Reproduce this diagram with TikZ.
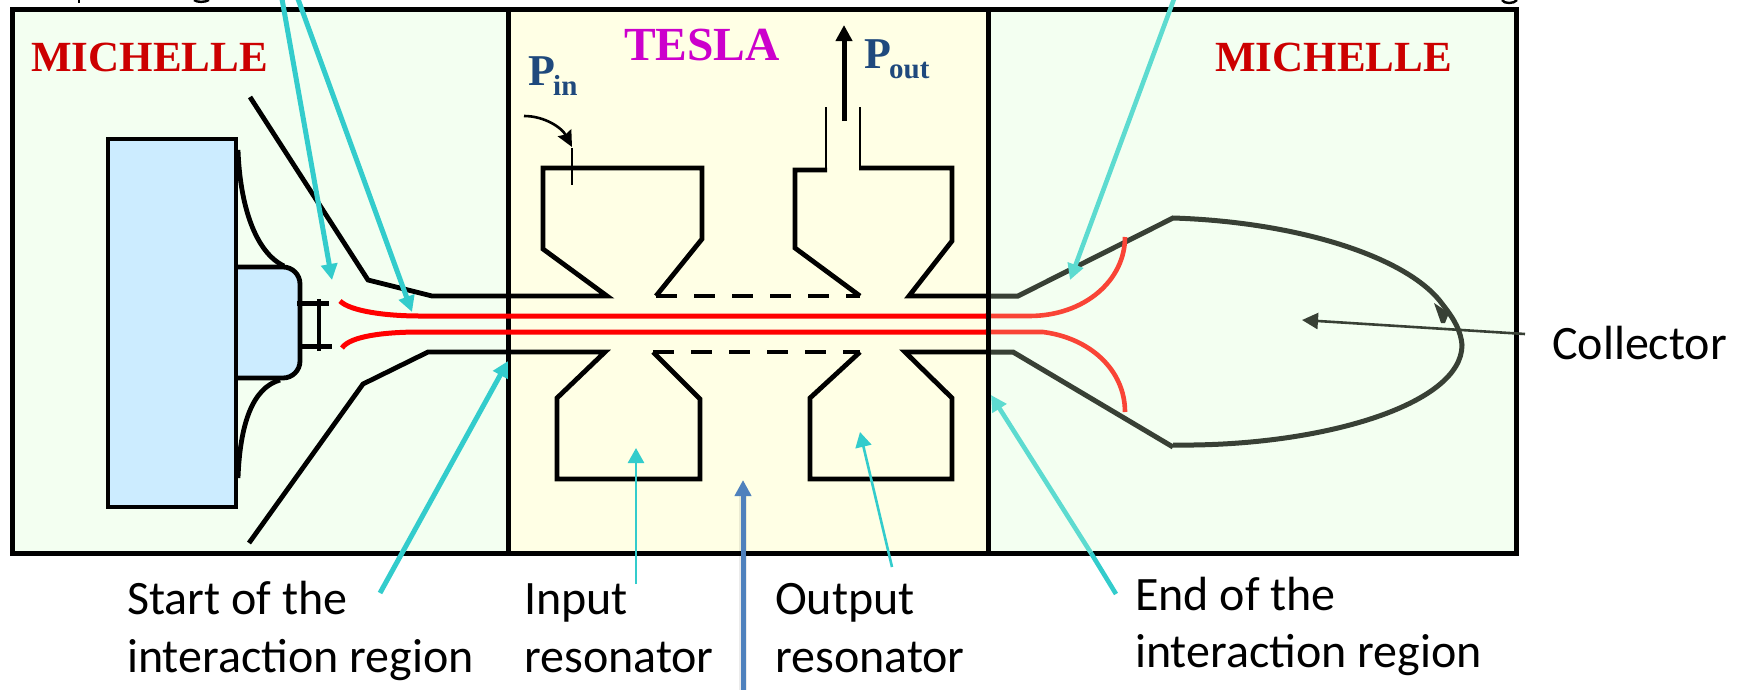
\documentclass[tikz,border=0pt]{standalone}
\usepackage{fontspec}
\setmainfont{Carlito}
\newfontfamily\serf{Liberation Serif}
\usetikzlibrary{arrows.meta}
\definecolor{zonegreen}{HTML}{F3FFF1}
\definecolor{zoneyellow}{HTML}{FFFFE5}
\definecolor{gunblue}{HTML}{CCECFF}
\definecolor{darkred}{HTML}{CC0000}
\definecolor{teslamag}{HTML}{CC00CC}
\definecolor{pblue}{HTML}{1F497D}
\definecolor{cyanA}{HTML}{33CCCC}
\definecolor{cyanB}{HTML}{5DDBD0}
\definecolor{beamblue}{HTML}{4F81BD}
\definecolor{colldark}{HTML}{384035}
\definecolor{beamorange}{HTML}{F94436}
\tikzset{
  wall/.style={line width=4.8pt,line cap=butt,line join=miter,draw=black},
  framewall/.style={line width=5pt,draw=black},
  thinwall/.style={line width=2.6pt,draw=black},
  collwall/.style={line width=5pt,draw=colldark,line join=miter},
  beam/.style={line width=5pt,draw=red,line cap=butt},
  beamend/.style={line width=4.6pt,draw=beamorange,line cap=butt},
  cyanthick/.style={line width=5pt,draw=cyanA,-{Triangle[length=16pt,width=16pt]}},
  cyanlight/.style={line width=4.6pt,draw=cyanB,-{Triangle[length=16pt,width=16pt]}},
  cyanthin/.style={line width=2.6pt,draw=cyanA,-{Triangle[length=15pt,width=16pt]}},
  label/.style={anchor=base west,inner sep=0pt,font=\fontsize{48}{48}\selectfont,text=black},
  mich/.style={anchor=base west,inner sep=0pt,font=\serf\bfseries\fontsize{43}{43}\selectfont,text=darkred},
  powlab/.style={anchor=base west,inner sep=0pt,font=\serf\bfseries\fontsize{44}{44}\selectfont,text=pblue},
  powsub/.style={anchor=base west,inner sep=0pt,font=\serf\bfseries\fontsize{29}{29}\selectfont,text=pblue},
}
\begin{document}
\begin{tikzpicture}[x=1pt,y=-1pt]
\useasboundingbox (0,0) rectangle (1740,689);
% zones
\fill[zonegreen] (12,9) rectangle (508,553);
\fill[zoneyellow] (508,9) rectangle (988,553);
\fill[zonegreen] (988,9) rectangle (1516,553);
% clipped ends of the text above the frame
\draw[line width=2.4pt] (79,0) -- (79,3);
\draw[line width=2.4pt] (194,0) .. controls (197,2.5) and (205,2.5) .. (209,0);
\draw[line width=2.4pt] (1502,0) .. controls (1504,4) and (1514,4) .. (1517,0);
% coordinates of free ends
\coordinate (a1s) at (282,-1); \coordinate (a1e) at (332,280);
\coordinate (a2s) at (298,-1); \coordinate (a2e) at (412,312);
\coordinate (a3s) at (380,593); \coordinate (a3e) at (508,361);
\coordinate (a4s) at (636,584); \coordinate (a4e) at (636,448);
\coordinate (a5s) at (892,567); \coordinate (a5e) at (860,432);
\coordinate (a6s) at (743,690); \coordinate (a6e) at (743,480);
\coordinate (a7s) at (1116,594); \coordinate (a7m) at (1091,553); \coordinate (a7e) at (991,395);
\coordinate (a8s) at (1174,-1); \coordinate (a8e) at (1070,280);
\coordinate (cs) at (1525,334); \coordinate (ce) at (1302,320);
% gun
\draw[wall,fill=gunblue,rounded corners=17pt] (236,267) -- (300,267) -- (300,378) -- (236,378);
\draw[wall,fill=gunblue] (108,139) rectangle (236,507);
\draw[wall] (238,150) .. controls (240,205) and (255,252) .. (284,266);
\draw[wall] (238,478) .. controls (240,425) and (252,388) .. (280,380);
% cathode
\draw[wall] (297,303.5) -- (329,303.5);
\draw[wall] (300,346.5) -- (332,346.5);
\draw[wall] (319,299) -- (319,351);
% focus electrode / upper tube
\draw[wall] (250,97) -- (368,280) -- (432,296) -- (607,296)
  -- (543,249) -- (543,168) -- (702,168) -- (702,239) -- (656,296);
\draw[wall,dash pattern=on 21pt off 17pt] (656,296) -- (860,296);
\draw[wall] (860,296) -- (795,248) -- (795,170) -- (827,170);
\draw[wall] (859,168) -- (952,168) -- (952,241) -- (909,296) -- (988,296);
\draw[thinwall] (826,107) -- (826,171);
\draw[thinwall] (860,107) -- (860,170);
% lower tube
\draw[wall] (249,543) -- (363,384) -- (428,352) -- (605,352)
  -- (557,398) -- (557,479) -- (700,479) -- (700,399) -- (653,352);
\draw[wall,dash pattern=on 21pt off 17pt] (653,352) -- (860,352);
\draw[wall] (860,352) -- (810,398) -- (810,479) -- (952,479) -- (952,398) -- (905,352) -- (988,352);
% collector
\draw[collwall] (988,296) -- (1018,296) -- (1173,218)
  .. controls (1300,222) and (1410,258) .. (1443,305)
  .. controls (1455,320) and (1461,332) .. (1462,345)
  .. controls (1462,405) and (1320,447) .. (1173,445);
\draw[collwall] (1173,447) -- (1013,352) -- (988,352);
\fill[colldark] (1434,303) -- (1449,313) -- (1445,323) -- (1441,323) -- cycle;
% beams, right part
\draw[beamend] (985,316) -- (1029,316) .. controls (1085,316) and (1125,280) .. (1125,237);
\draw[beamend] (985,332) -- (1043,332) .. controls (1090,338) and (1125,370) .. (1125,412);
% frame
\draw[framewall] (12,9) rectangle (1516,553);
\draw[framewall] (508,7) -- (508,555);
\draw[framewall] (988,7) -- (988,555);
% beams, left part
\draw[beam] (340,301) .. controls (350,311) and (385,316) .. (420,316) -- (986,316);
\draw[beam] (342,348) .. controls (350,336) and (385,332) .. (420,332) -- (986,332);
% power arrows
\draw[line width=5pt,-{Triangle[length=16pt,width=16pt]}] (844,121) -- (844,25);
\draw[line width=2.6pt,-{Stealth[length=16pt,width=15pt,inset=2pt]}] (524,116) .. controls (545,116) and (562,128) .. (572,147);
\draw[thinwall] (572,148) -- (572,185);
% pointers
\draw[cyanthick] (a1s) -- (a1e);
\draw[cyanthick] (a2s) -- (a2e);
\draw[cyanthick] (a3s) -- (a3e);
\draw[cyanthin] (a4s) -- (a4e);
\draw[cyanthin] (a5s) -- (a5e);
\draw[line width=8pt,draw=black,opacity=0.08] (743,690) -- (743,490);
\draw[line width=5pt,draw=beamblue,-{Triangle[length=16pt,width=16pt]}] (a6s) -- (a6e);
\draw[cyanlight] (a7m) -- (a7e);
\draw[line width=4.6pt,draw=cyanA] (a7s) -- (a7m);
\draw[cyanlight] (a8s) -- (a8e);
\draw[line width=2.6pt,draw=colldark,-{Triangle[length=16pt,width=16pt]}] (cs) -- (ce);
% titles
\node[mich] (mich1) at (31,71.5) {MICHELLE};
\node[mich] (mich2) at (1215,71.5) {MICHELLE};
\node[anchor=base west,inner sep=0pt,font=\serf\bfseries\fontsize{47.5}{47.5}\selectfont,text=teslamag] (tesla) at (624,60) {TESLA};
\node[powlab] (pin) at (528,85) {P};
\node[powsub] (pinsub) at (553,95) {in};
\node[powlab] (pout) at (864,68) {P};
\node[powsub] (poutsub) at (889,78) {out};
% labels
\node[label] (l1a) at (127,614) {Start of the};
\node[label] (l1b) at (127,672) {interaction region};
\node[label] (l2a) at (524,614) {Input};
\node[label] (l2b) at (524,672) {resonator};
\node[label] (l3a) at (775,614) {Output};
\node[label] (l3b) at (775,672) {resonator};
\node[label] (l4a) at (1135,610) {End of the};
\node[label] (l4b) at (1135,667) {interaction region};
\node[label] (l5) at (1552,359) {Collector};
\end{tikzpicture}
\end{document}
